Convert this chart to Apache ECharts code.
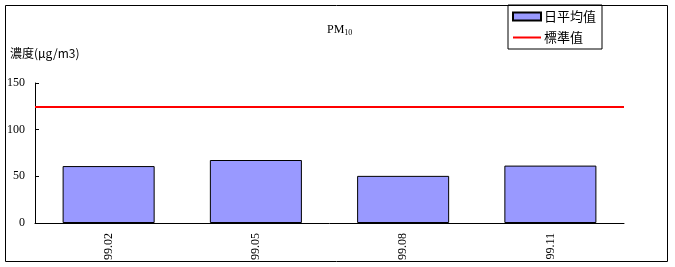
<!DOCTYPE html>
<html><head><meta charset="utf-8">
<script src="https://cdn.jsdelivr.net/npm/echarts@6/dist/echarts.min.js"></script>
<style>html,body{margin:0;padding:0;background:#fff}#c{width:675px;height:267px}</style>
</head><body><div id="c"></div>
<script>
const categories = ['99.02', '99.05', '99.08', '99.11'];
const dailyAvg = [61, 67.5, 50.5, 61.5];
const standard = 125;
const yTicks = { min: 0, max: 150, interval: 50 };

const serif = '"Liberation Serif","Noto Sans CJK TC",serif';
const cjk = '"Noto Sans CJK TC","Liberation Serif",sans-serif';

const chart = echarts.init(document.getElementById('c'));
chart.setOption({
  animation: false,
  backgroundColor: '#fff',
  title: [
    { text: 'PM{s|10}', left: 322, top: 18,
      textStyle: { fontFamily: serif, fontSize: 12, fontWeight: 'normal', color: '#000',
        rich: { s: { fontFamily: serif, fontSize: 8, color: '#000', verticalAlign: 'bottom', padding: [6, 0, 0, 0] } } } },
    { text: '濃度(μg/m3)', left: 5, top: 42,
      textStyle: { fontFamily: cjk, fontSize: 12, fontWeight: 'normal', color: '#000' } }
  ],
  legend: {
    orient: 'vertical', left: 508, top: 5,
    width: 93,
    padding: [5, 6, 5, 4],
    itemGap: 8,
    itemWidth: 28, itemHeight: 8,
    borderColor: '#000', borderWidth: 1,
    textStyle: { fontFamily: cjk, fontSize: 13, color: '#000', padding: [0, 0, 0, -2] },
    data: [
      { name: '日平均值', icon: 'rect' },
      { name: '標準值', icon: 'path://M0,0L28,0L28,2L0,2Z', itemStyle: { color: '#FF0000', borderWidth: 0 } }
    ]
  },
  graphic: [{
    type: 'rect', shape: { x: 5.5, y: 5.5, width: 662, height: 256 },
    style: { fill: 'none', stroke: '#000', lineWidth: 1 }, z: -1, silent: true
  }],
  grid: { left: 35, right: 51, top: 83, bottom: 44 },
  xAxis: {
    type: 'category', data: categories,
    axisLine: { lineStyle: { color: '#000', width: 1 } },
    axisTick: { inside: true, length: 4, lineStyle: { color: '#000' } },
    axisLabel: { rotate: 90, margin: 10, fontFamily: serif, fontSize: 12, color: '#000' }
  },
  yAxis: {
    type: 'value', min: yTicks.min, max: yTicks.max, interval: yTicks.interval,
    axisLine: { show: true, lineStyle: { color: '#000', width: 1 } },
    axisTick: { show: true, inside: true, length: 4, lineStyle: { color: '#000' } },
    axisLabel: { margin: 10, fontFamily: serif, fontSize: 12, color: '#000' },
    splitLine: { show: false }
  },
  series: [
    { name: '日平均值', type: 'bar', data: dailyAvg, barWidth: '62.5%',
      itemStyle: { color: '#9999FF', borderColor: '#000', borderWidth: 1 } },
    { name: '標準值', type: 'line', data: [], symbol: 'none',
      lineStyle: { color: '#FF0000', width: 2 }, itemStyle: { color: '#FF0000' },
      markLine: { silent: true, symbol: 'none', label: { show: false },
        lineStyle: { color: '#FF0000', width: 2, type: 'solid' },
        data: [{ yAxis: standard }] } }
  ]
});
</script></body></html>
